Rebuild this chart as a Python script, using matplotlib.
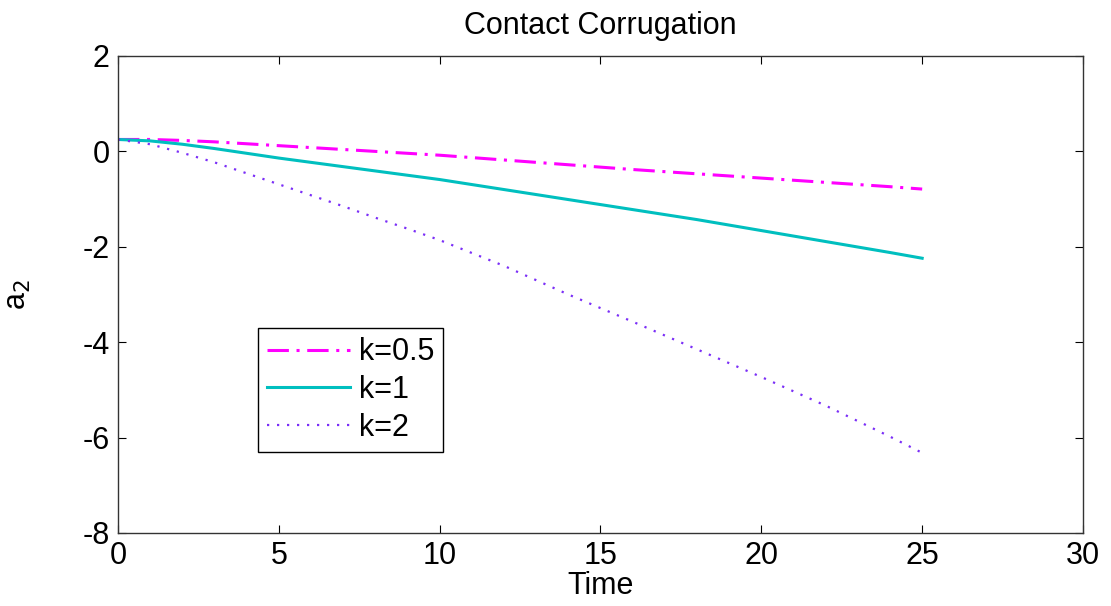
import numpy as np
import matplotlib
matplotlib.use("Agg")
import matplotlib.pyplot as plt

# values
time = [0, 1, 2, 3, 4, 5, 6, 7, 8, 9, 10, 12, 14, 16, 18, 20, 22, 24, 25]
a2_k05 = [0.25, 0.25, 0.23, 0.20, 0.16, 0.12, 0.08, 0.04, 0.00, -0.04, -0.08,
          -0.18, -0.28, -0.38, -0.47, -0.56, -0.65, -0.74, -0.79]
a2_k1 = [0.25, 0.22, 0.15, 0.06, -0.04, -0.14, -0.23, -0.32, -0.41, -0.50, -0.59,
         -0.80, -1.01, -1.22, -1.43, -1.66, -1.89, -2.12, -2.24]
a2_k2 = [0.25, 0.15, -0.03, -0.23, -0.46, -0.69, -0.92, -1.15, -1.39, -1.62, -1.86,
         -2.40, -3.00, -3.57, -4.15, -4.73, -5.33, -5.98, -6.32]
labels = ["k=0.5", "k=1", "k=2"]

plt.rcParams["font.family"] = ["Liberation Sans", "DejaVu Sans"]
plt.rcParams["axes.unicode_minus"] = False

fig = plt.figure(figsize=(11.11, 6.06), dpi=100)
ax = fig.add_axes([0.1062, 0.1205, 0.8686, 0.7871])

ax.plot(time, a2_k05, color="#FF00FF", linewidth=2.2, linestyle=(0, (7, 2.5, 1, 2.5)), label=labels[0])
ax.plot(time, a2_k1, color="#00BFBF", linewidth=2.2, linestyle="-", label=labels[1])
ax.plot(time, a2_k2, color="#7B2FF7", linewidth=1.6, linestyle=(0, (1, 3.5)), label=labels[2])

ax.set_xlim(0, 30)
ax.set_ylim(-8, 2)
ax.set_xticks(range(0, 31, 5))
ax.set_yticks(range(-8, 3, 2))
ax.tick_params(direction="in", top=True, right=True, length=6, width=0.8,
               labelsize=22, pad=6)
for sp in ax.spines.values():
    sp.set_linewidth(1.0)
    sp.set_color("#333333")

ax.set_title("Contact Corrugation", fontsize=22, pad=16)
ax.set_xlabel("Time", fontsize=22, labelpad=0)
ax.set_ylabel(r"a$_2$", fontsize=22)
ax.yaxis.set_label_coords(-0.088, 0.5)

leg = ax.legend(loc="lower left", bbox_to_anchor=(0.145, 0.17), fontsize=22,
                handlelength=2.7, handletextpad=0.3, borderpad=0.3,
                labelspacing=0.25, fancybox=False, framealpha=1,
                edgecolor="black", borderaxespad=0)
leg.get_frame().set_linewidth(1.0)

plt.savefig("out.png", dpi=100)
plt.close()
